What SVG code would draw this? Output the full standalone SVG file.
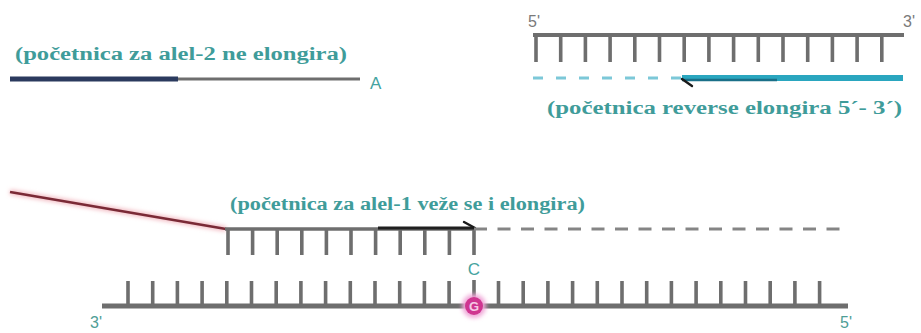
<svg xmlns="http://www.w3.org/2000/svg" width="921" height="333" viewBox="0 0 921 333">
<defs>
<style>
.lbl{font-family:"Liberation Serif","Times New Roman",serif;font-weight:bold;font-size:18.5px;fill:#3f9c9a}
.base{font-family:"Liberation Sans",Arial,sans-serif;font-size:17px;fill:#45a3a0}
.end{font-family:"Liberation Sans",Arial,sans-serif;font-size:16px}
.bb{stroke:#6e6e6e;fill:none;stroke-linecap:butt}
.teeth{stroke:#6e6e6e;stroke-width:3.6;fill:none}
.barb{stroke:#1a1a1a;stroke-width:2.4;fill:none;stroke-linecap:round}
</style>
<filter id="glow" x="-50%" y="-50%" width="200%" height="200%">
<feGaussianBlur stdDeviation="2"/>
</filter>
</defs>
<rect width="921" height="333" fill="#ffffff"/>

<g id="allele2-primer">
<text class="lbl" x="15" y="60" textLength="332" lengthAdjust="spacingAndGlyphs">(početnica za alel-2 ne elongira)</text>
<line x1="178" y1="79" x2="360" y2="79" stroke="#6e6e6e" stroke-width="3"/>
<line x1="10" y1="79" x2="178" y2="79" stroke="#2b3a5e" stroke-width="5"/>
<text class="base" x="370" y="89">A</text>
</g>

<g id="top-strand">
<text class="end" x="528" y="27" fill="#7a7a7a">5'</text>
<text class="end" x="903" y="27" fill="#7a7a7a">3'</text>
<line class="bb" x1="533" y1="35" x2="904" y2="35" stroke-width="4"/>
<path class="teeth" d="M536 35V62M560.7 35V62M585.4 35V62M610.1 35V62M634.8 35V62M659.5 35V62M684.2 35V62M708.9 35V62M733.6 35V62M758.3 35V62M783 35V62M807.7 35V62M832.4 35V62M857.1 35V62M881.8 35V62"/>
</g>

<g id="reverse-primer">
<line x1="533" y1="78" x2="682" y2="78" stroke="#7cc8d8" stroke-width="3" stroke-dasharray="10 13"/>
<line x1="682" y1="78" x2="903" y2="78" stroke="#b8e6ee" stroke-width="9" filter="url(#glow)"/>
<line x1="682" y1="78" x2="903" y2="78" stroke="#2aa6bf" stroke-width="6"/>
<line x1="682" y1="80" x2="777" y2="80" stroke="#1a6f88" stroke-width="2.5"/>
<path class="barb" d="M682 79L692 86"/>
<text class="lbl" x="547" y="114" textLength="355" lengthAdjust="spacingAndGlyphs">(početnica reverse elongira 5´- 3´)</text>
</g>

<g id="allele1-primer">
<text class="lbl" x="230" y="210" textLength="355" lengthAdjust="spacingAndGlyphs">(početnica za alel-1 veže se i elongira)</text>
<line x1="10" y1="192" x2="226" y2="229" stroke="#f2b8c0" stroke-width="5" filter="url(#glow)"/>
<line x1="10" y1="192" x2="226" y2="229" stroke="#7a2a36" stroke-width="2.4"/>
<line class="bb" x1="225" y1="229" x2="474" y2="229" stroke-width="3.5"/>
<path class="teeth" d="M228 229V255M252.6 229V255M277.2 229V255M301.8 229V255M326.4 229V255M351 229V255M375.6 229V255M400.2 229V255M424.8 229V255M449.4 229V255M474 229V255"/>
<line x1="378" y1="228" x2="474" y2="228" stroke="#1f1f1f" stroke-width="3"/>
<path class="barb" d="M475 228L464 222"/>
<line x1="474" y1="229" x2="848" y2="229" stroke="#858585" stroke-width="3" stroke-dasharray="13 10.5"/>
<text class="base" x="474" y="275" text-anchor="middle">C</text>
</g>

<g id="bottom-strand">
<line class="bb" x1="102" y1="306" x2="848" y2="306" stroke-width="5"/>
<path class="teeth" d="M128 306V281M152.7 306V281M177.4 306V281M202.1 306V281M226.8 306V281M251.5 306V281M276.2 306V281M300.9 306V281M325.6 306V281M350.3 306V281M375 306V281M399.7 306V281M424.4 306V281M449.1 306V281M474 298V280M498.5 306V281M523.2 306V281M547.9 306V281M572.6 306V281M597.3 306V281M622 306V281M646.7 306V281M671.4 306V281M696.1 306V281M720.8 306V281M745.5 306V281M770.2 306V281M794.9 306V281M819.6 306V281"/>
<text class="end" x="90" y="328" fill="#4f9e96">3'</text>
<text class="end" x="840" y="328" fill="#4f9e96">5'</text>
</g>

<g id="G-base">
<circle cx="474" cy="306" r="12" fill="#f0a8d8" filter="url(#glow)"/>
<circle cx="474" cy="306" r="9" fill="#cf3590"/>
<text x="474" y="311" text-anchor="middle" font-family="Liberation Sans, Arial, sans-serif" font-size="13" font-weight="bold" fill="#f6c8e6">G</text>
</g>
</svg>
